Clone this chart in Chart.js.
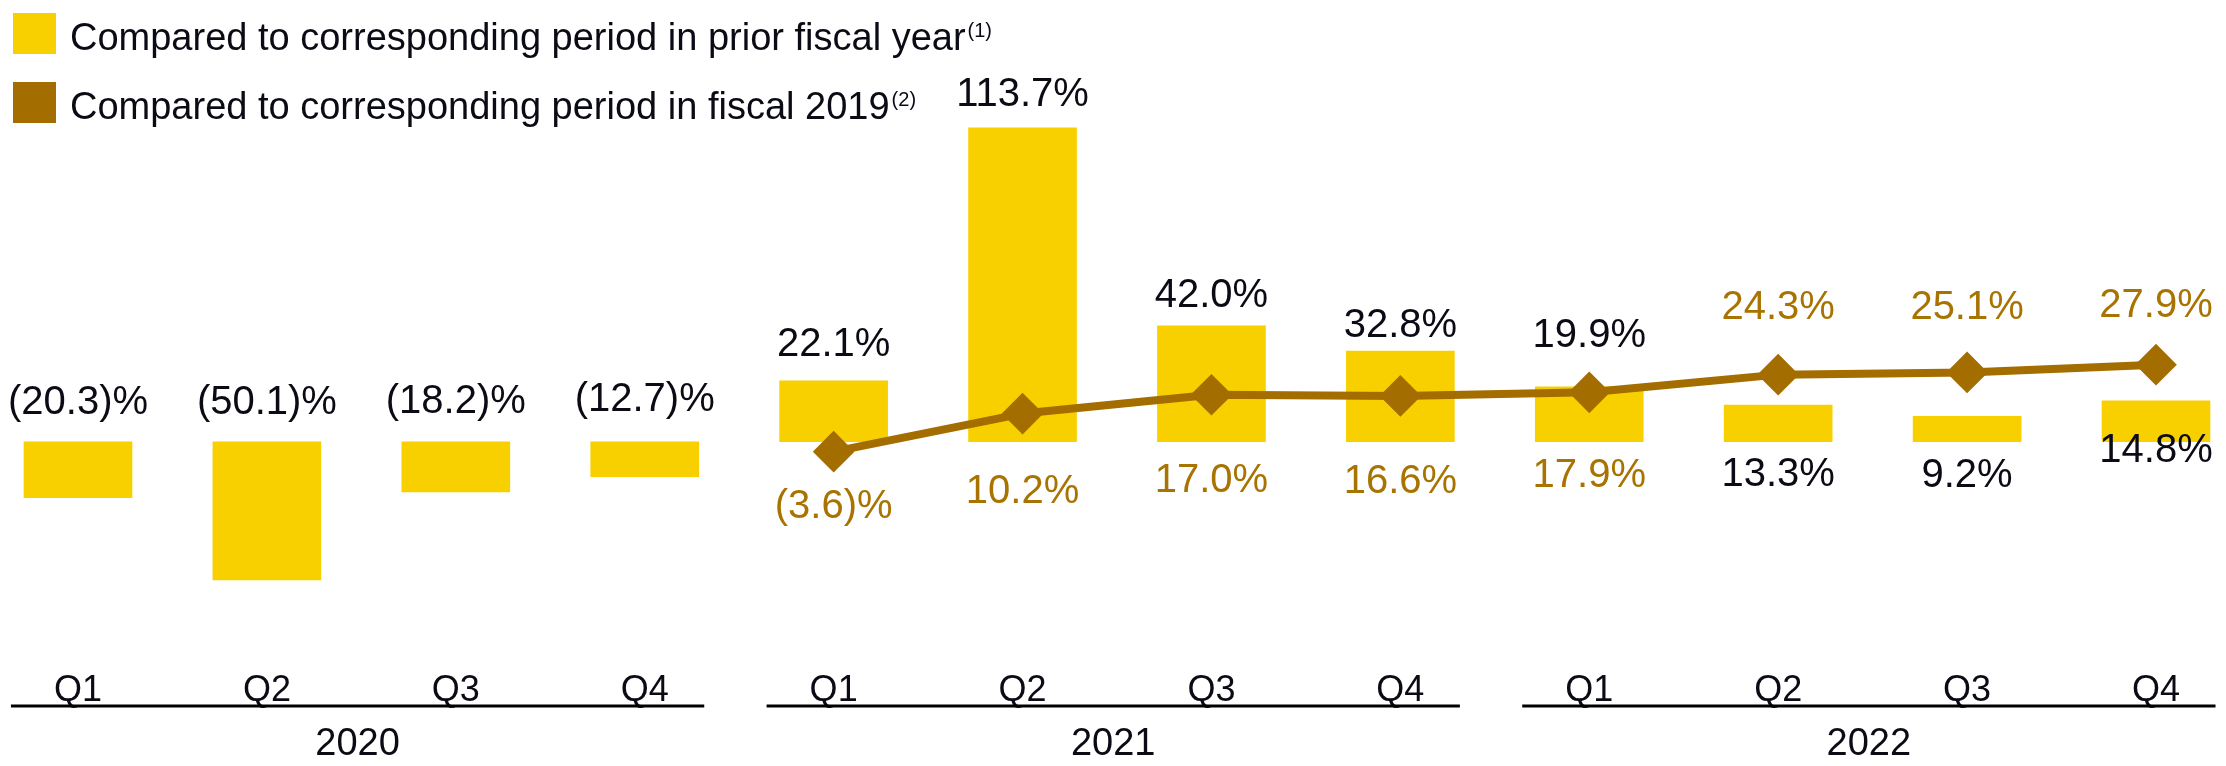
<!DOCTYPE html>
<html><head><meta charset="utf-8">
<script src="https://cdn.jsdelivr.net/npm/chart.js@4.4.0/dist/chart.umd.min.js"></script>
<style>html,body{margin:0;padding:0;background:#fff;} canvas{display:block;}</style>
</head><body>
<canvas id="c" width="2226" height="766"></canvas>
<script>
// ---- data ----
const quarters = ['Q1','Q2','Q3','Q4','Q1','Q2','Q3','Q4','Q1','Q2','Q3','Q4'];
const years = ['2020','2021','2022'];
const priorYear = [-20.3,-50.1,-18.2,-12.7,22.1,113.7,42.0,32.8,19.9,13.3,9.2,14.8];
const vs2019 = [null,null,null,null,-3.6,10.2,17.0,16.6,17.9,24.3,25.1,27.9];
const legendLabels = ['Compared to corresponding period in prior fiscal year','Compared to corresponding period in fiscal 2019'];
const legendNotes = ['(1)','(2)'];

// ---- styling ----
const YELLOW = '#F8D000', BROWN = '#A36D00', BROWN_TEXT = '#A87300', INK = '#0B0B16';
const FONT = '"Liberation Sans", Arial, sans-serif';
const barLabelDy = [-42,-42,-43,-45,-39,-36,-33,-28,-54,67,56,47];
const lineLabelDy = [0,0,0,0,52,75,83,83,80,-70,-68,-62];

function fmt(v){ return v < 0 ? '(' + Math.abs(v).toFixed(1) + ')%' : v.toFixed(1) + '%'; }

function drawCentered(ctx, text, x, cy, size){
  ctx.font = size + 'px ' + FONT;
  ctx.textAlign = 'center';
  ctx.textBaseline = 'alphabetic';
  ctx.fillText(text, x, cy + 0.358 * size);
}

const valueLabels = {
  id: 'valueLabels',
  afterDatasetsDraw(chart){
    const ctx = chart.ctx;
    ctx.save();
    const lineMeta = chart.getDatasetMeta(0);
    const barMeta = chart.getDatasetMeta(1);
    barMeta.data.forEach((el, i) => {
      const top = Math.min(el.y, el.base);
      ctx.fillStyle = INK;
      drawCentered(ctx, fmt(priorYear[i]), el.x, top + barLabelDy[i], 40);
    });
    lineMeta.data.forEach((el, i) => {
      if (vs2019[i] === null) return;
      ctx.fillStyle = BROWN_TEXT;
      drawCentered(ctx, fmt(vs2019[i]), el.x, el.y + lineLabelDy[i], 40);
    });
    ctx.restore();
  }
};

const groupAxis = {
  id: 'groupAxis',
  afterDraw(chart){
    const ctx = chart.ctx, xs = chart.scales.x;
    const step = xs.getPixelForValue(1) - xs.getPixelForValue(0);
    const base = chart.chartArea.bottom;
    ctx.save();
    years.forEach((yr, g) => {
      const a = xs.getPixelForValue(g * 4) - 0.355 * step;
      const b = xs.getPixelForValue(g * 4 + 3) + 0.315 * step;
      const ly = base + 66.4;
      ctx.fillStyle = '#000';
      ctx.fillRect(a, ly - 1.5, b - a, 3);
      ctx.fillStyle = INK;
      drawCentered(ctx, yr, (a + b) / 2, base + 101.4, 38);
    });
    ctx.restore();
  }
};

const customLegend = {
  id: 'customLegend',
  afterDraw(chart){
    const ctx = chart.ctx;
    const colors = [YELLOW, BROWN];
    ctx.save();
    legendLabels.forEach((t, i) => {
      const by = 13 + i * 69;
      ctx.fillStyle = colors[i];
      ctx.fillRect(13, by, 43, 41);
      ctx.fillStyle = INK;
      ctx.font = '38px ' + FONT;
      ctx.textAlign = 'left';
      ctx.textBaseline = 'alphabetic';
      const base = by + 37;
      ctx.fillText(t, 70, base);
      const w = ctx.measureText(t).width;
      ctx.font = '20px ' + FONT;
      ctx.fillText(legendNotes[i], 70 + w + 2, base - 13);
    });
    ctx.restore();
  }
};

new Chart(document.getElementById('c'), {
  type: 'bar',
  data: {
    labels: quarters,
    datasets: [
      {
        type: 'line',
        label: legendLabels[1],
        data: vs2019,
        order: 0,
        borderColor: BROWN,
        borderWidth: 8,
        backgroundColor: BROWN,
        pointStyle: 'rectRot',
        pointRadius: 18,
        pointHoverRadius: 18,
        pointBorderWidth: 4,
        pointBorderColor: BROWN,
        pointBackgroundColor: BROWN,
        borderJoinStyle: 'round',
        tension: 0,
        clip: false
      },
      {
        type: 'bar',
        label: legendLabels[0],
        data: priorYear,
        order: 1,
        backgroundColor: YELLOW,
        borderWidth: 0,
        barThickness: 108,
        clip: false
      }
    ]
  },
  options: {
    responsive: false,
    animation: false,
    devicePixelRatio: 1,
    layout: { padding: { top: 110.5, bottom: 23.6, left: 78, right: 70 } },
    plugins: { legend: { display: false }, tooltip: { enabled: false } },
    scales: {
      x: {
        offset: false,
        grid: { display: false, drawTicks: false },
        border: { display: false },
        ticks: { autoSkip: false, maxRotation: 0, padding: 29.8, color: INK, font: { family: FONT, size: 36 } }
      },
      y: {
        display: false,
        min: -71.7,
        max: 120
      }
    }
  },
  plugins: [valueLabels, groupAxis, customLegend]
});
</script>
</body></html>
